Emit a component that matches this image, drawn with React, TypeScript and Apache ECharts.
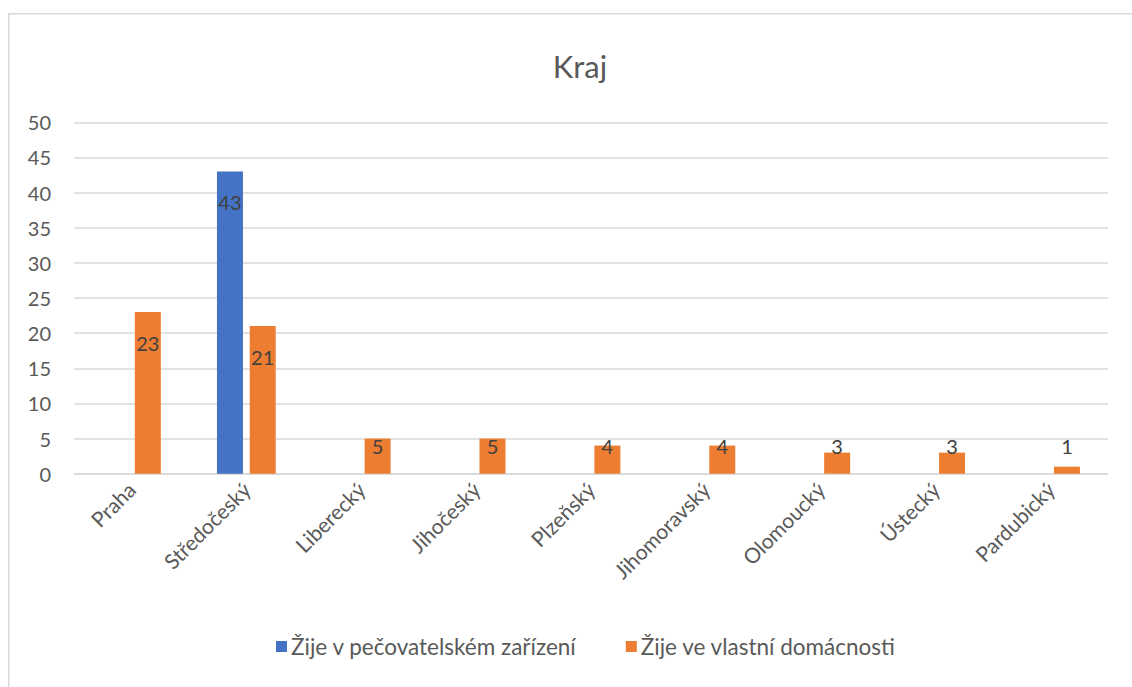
import React, { useEffect, useRef } from "react";
import * as echarts from "echarts";

const categories = [
  "Praha",
  "Středočeský",
  "Liberecký",
  "Jihočeský",
  "Plzeňský",
  "Jihomoravský",
  "Olomoucký",
  "Ústecký",
  "Pardubický",
];
const seriesNames = ["Žije v pečovatelském zařízení", "Žije ve vlastní domácnosti"];
const careHome: (number | null)[] = [null, 43, null, null, null, null, null, null, null];
const ownHome: number[] = [23, 21, 5, 5, 4, 4, 3, 3, 1];
const yTicks = { min: 0, max: 50, interval: 5 };

const FONT = "Lato, 'Liberation Sans', sans-serif";
const PX_PER_UNIT = 351.4 / 50;

function labelled(values: (number | null)[]) {
  return values.map((v) => {
    if (v === null) return "-";
    const off = Math.min(31, v * PX_PER_UNIT - 28);
    return {
      value: v,
      label: { position: ["50%", off] },
    };
  });
}

export default function App() {
  const ref = useRef<HTMLDivElement>(null);
  useEffect(() => {
    if (!ref.current) return;
    const chart = echarts.init(ref.current, undefined, { renderer: "svg" });
    const labelCfg = {
      show: true,
      align: "center",
      verticalAlign: "middle",
      color: "#404040",
      fontSize: 20,
      fontFamily: FONT,
    };
    chart.setOption({
      animation: false,
      backgroundColor: "#ffffff",
      textStyle: { fontFamily: FONT },
      title: {
        text: "Kraj",
        left: 567,
        top: 37,
        textAlign: "center",
        textStyle: { fontSize: 31, fontWeight: "normal", color: "#595959", fontFamily: FONT },
      },
      graphic: [
        {
          type: "rect",
          shape: { x: 0.75, y: 5.75, width: 1300, height: 900 },
          style: { fill: "none", stroke: "#D9D9D9", lineWidth: 1.5 },
          silent: true,
        },
      ],
      legend: {
        bottom: 24,
        left: 263,
        itemWidth: 11,
        itemHeight: 11,
        itemGap: 49,
        icon: "rect",
        textStyle: { fontSize: 22.5, color: "#595959", fontFamily: FONT, padding: [0, 0, 0, -1] },
        data: seriesNames,
      },
      grid: { left: 66, right: 24, top: 114.3, bottom: 213.3, containLabel: false },
      xAxis: {
        type: "category",
        data: categories,
        axisLine: { lineStyle: { color: "#D9D9D9", width: 1.5 } },
        axisTick: { show: false },
        axisLabel: {
          rotate: 45,
          interval: 0,
          margin: 12,
          fontSize: 21,
          color: "#595959",
          fontFamily: FONT,
        },
      },
      yAxis: {
        type: "value",
        min: yTicks.min,
        max: yTicks.max,
        interval: yTicks.interval,
        axisLine: { show: false },
        axisTick: { show: false },
        axisLabel: { margin: 23, fontSize: 20, color: "#595959", fontFamily: FONT },
        splitLine: { lineStyle: { color: "#D9D9D9", width: 1.5 } },
      },
      series: [
        {
          name: seriesNames[0],
          type: "bar",
          data: labelled(careHome),
          barWidth: 26,
          barGap: "26%",
          itemStyle: { color: "#4472C4" },
          label: labelCfg,
        },
        {
          name: seriesNames[1],
          type: "bar",
          data: labelled(ownHome),
          barWidth: 26,
          barGap: "26%",
          itemStyle: { color: "#ED7D31" },
          label: labelCfg,
        },
      ],
    });
    return () => chart.dispose();
  }, []);
  return (
    <div
      ref={ref}
      style={{ position: "absolute", left: 8, top: 8, width: 1124, height: 679 }}
    />
  );
}
